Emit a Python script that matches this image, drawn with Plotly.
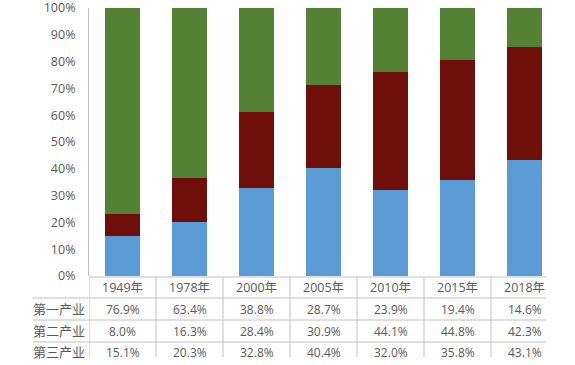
import plotly.graph_objects as go

years = ["1949年", "1978年", "2000年", "2005年", "2010年", "2015年", "2018年"]
primary = [76.9, 63.4, 38.8, 28.7, 23.9, 19.4, 14.6]
secondary = [8.0, 16.3, 28.4, 30.9, 44.1, 44.8, 42.3]
tertiary = [15.1, 20.3, 32.8, 40.4, 32.0, 35.8, 43.1]
row_names = ["第一产业", "第二产业", "第三产业"]
y_ticks = [0, 10, 20, 30, 40, 50, 60, 70, 80, 90, 100]

FONT = "Open Sans, Noto Sans CJK SC, sans-serif"
TXT = "#595959"
LINE = "#c0c0c0"

W, H = 575, 365
L, R, T, B = 89, 17, 8, 89
PW = W - L - R
PH = H - T - B

def py(Y):  # pixel y -> paper y
    return (H - B - Y) / PH

def px(X):  # pixel x -> paper x
    return (X - L) / PW

fig = go.Figure()
x = list(range(len(years)))
fig.add_bar(x=x, y=tertiary, name=row_names[2], marker_color="#5B9BD5",
            marker_line_width=0)
fig.add_bar(x=x, y=secondary, name=row_names[1], marker_color="#6E0F0A",
            marker_line_width=0)
fig.add_bar(x=x, y=primary, name=row_names[0], marker_color="#548235",
            marker_line_width=0)

shapes = []
annotations = []

# table horizontal lines
shapes.append(dict(type="line", xref="paper", yref="paper", x0=0, x1=px(546),
                   y0=py(277), y1=py(277), line=dict(color=LINE, width=1)))
for Y in [298, 320, 342]:
    shapes.append(dict(type="line", xref="paper", yref="paper", x0=px(33), x1=px(546),
                       y0=py(Y), y1=py(Y), line=dict(color=LINE, width=1)))
# table vertical lines
for i in range(len(years)):
    shapes.append(dict(type="line", xref="x", yref="paper", x0=i - 0.5, x1=i - 0.5,
                       y0=py(277), y1=py(357), line=dict(color=LINE, width=1)))

# year labels
for i, yr in enumerate(years):
    annotations.append(dict(x=i, y=py(287.5), xref="x", yref="paper", text=yr,
                            showarrow=False, xanchor="center", yanchor="middle",
                            font=dict(size=12.5, color=TXT, family=FONT)))

rows = [primary, secondary, tertiary]
row_y = [309, 331, 352]
for r, (name, vals) in enumerate(zip(row_names, rows)):
    annotations.append(dict(x=px(87), y=py(row_y[r]), xref="paper", yref="paper",
                            text=name, showarrow=False, xanchor="right", yanchor="middle",
                            font=dict(size=13, color=TXT, family=FONT)))
    for i, v in enumerate(vals):
        annotations.append(dict(x=i, y=py(row_y[r]), xref="x", yref="paper",
                                text=f"{v:.1f}%", showarrow=False,
                                xanchor="center", yanchor="middle",
                                font=dict(size=12, color=TXT, family=FONT)))

fig.update_layout(
    width=W, height=H,
    margin=dict(l=L, r=R, t=T, b=B, autoexpand=False),
    barmode="stack",
    bargap=0.49,
    showlegend=False,
    plot_bgcolor="white",
    paper_bgcolor="white",
    font=dict(family=FONT, color=TXT, size=12),
    shapes=shapes,
    annotations=annotations,
    xaxis=dict(range=[-0.5, 6.5], showticklabels=False, showline=False,
               showgrid=False, zeroline=False, ticks=""),
    yaxis=dict(range=[0, 100.001], tickvals=y_ticks,
               ticktext=[f"{v}%" for v in y_ticks],
               showgrid=False, zeroline=False, showline=True, linecolor=LINE,
               linewidth=1, ticks="", ticklabelstandoff=10,
               ticklabeloverflow="allow",
               tickfont=dict(size=12.5, color=TXT, family=FONT)),
)

fig.write_html("out.html",
               config={"displayModeBar": False},
               post_script="document.body.style.margin='0';document.body.style.padding='0';")
